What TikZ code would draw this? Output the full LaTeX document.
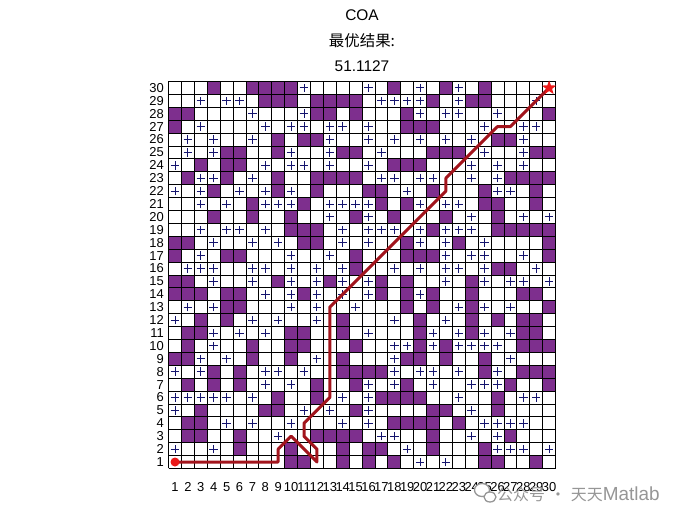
\documentclass[tikz,border=0pt]{standalone}
\usepackage{fontspec}
\setmainfont{Liberation Sans}
\newfontfamily\cjk{Noto Sans CJK SC}
\usetikzlibrary{shapes.geometric}
\definecolor{cellpurple}{RGB}{126,47,142}
\definecolor{plusblue}{RGB}{20,20,110}
\definecolor{pathred}{RGB}{162,20,28}
\definecolor{markred}{RGB}{235,25,25}
\definecolor{wmgray}{RGB}{150,150,150}
\begin{document}
\begin{tikzpicture}[x=1bp,y=-1bp,
  ticklbl/.style={font=\fontsize{13}{15}\selectfont, inner sep=0pt},
  ttl/.style={font=\fontsize{15.5}{18}\selectfont, inner sep=0pt},
  obstacle/.style={fill=cellpurple},
  plusmark/.style={draw=plusblue, line width=0.9bp},
  gridline/.style={draw=black, line width=0.8bp},
  route/.style={draw=pathred, line width=3bp, line join=round, line cap=round},
  startdot/.style={circle, fill=markred, minimum size=9bp, inner sep=0pt},
  goalstar/.style={star, star points=5, star point ratio=2.4, fill=markred, minimum size=15bp, inner sep=0pt},
  wmark/.style={text=wmgray, font=\fontsize{16}{18}\selectfont, inner sep=0pt}]
\useasboundingbox (0,0) rectangle (700,525);
\fill[white] (0,0) rectangle (700,525);

\node[ttl] (t1) at (362,15) {COA};
\node[ttl] (t2) at (362,41) {\cjk 最优结果:};
\node[ttl] (t3) at (362,66) {51.1127};

\begin{scope}[shift={(162.1,474.9)}, x=12.9bp, y=12.9bp]
 \foreach \r/\cs in {30/{4,7,8,9,10,18,22,25},
  29/{8,9,10,12,13,14,15,21,24,25},
  28/{1,2,12,13,15,19,30},
  27/{1,19,20,21},
  26/{9,11,12,26,27},
  25/{5,6,9,14,15,21,22,23,29,30},
  24/{3,5,6,18,19,20},
  23/{2,5,9,12,13,14,15,27,28,29,30},
  22/{4,9,12,16,17,21,25,29},
  21/{7,11,17,19,25,26,29},
  20/{4,7,10,15,18,22,26},
  19/{10,11,12,21,26,27,28,29,30},
  18/{1,2,11,12,19,23,30},
  17/{1,5,6,15,19,20,21,30},
  16/{15,26,27},
  15/{1,2,9,13,17,19,24},
  14/{1,2,3,5,6,11,17,19,21,24,28,29},
  13/{5,6,19,21,24,30},
  12/{3,5,14,20,24,26,28,29},
  11/{2,3,10,11,14,20,24,28,29},
  10/{2,7,10,11,15,20,22,28,29,30},
  9/{1,2,7,10,14,19,20,22,25},
  8/{4,6,14,15,16,17,25,28,29,30},
  7/{2,4,6,12,15,19,27,30},
  6/{9,12,17,18,19,20,26},
  5/{3,8,9,15,21,22,26},
  4/{2,3,18,19,20,21,23},
  3/{2,3,6,12,13,14,15,21,27},
  2/{6,10,14,16,17,21,25},
  1/{10,11,14,16,18,25,26,29}}
 {\foreach \c in \cs {\fill[obstacle] (\c-0.5,\r-0.5) rectangle ++(1,1);}}

 \foreach \r/\cs in {30/{11,16,20,23},
  29/{3,5,6,17,18,19,20,23,29},
  28/{7,11,20,22,23,26},
  27/{3,8,10,11,13,14,16,25,28,29},
  26/{2,4,7,13,16,18,20,22,24,28},
  25/{2,4,10,13,17,25,28},
  24/{1,8,10,11,13,16,24,26,28},
  23/{3,4,7,17,18,20,21,24,26},
  22/{1,3,6,8,10,19,26,27},
  21/{3,5,8,9,10,13,14,15,16,20,22,23},
  20/{13,16,24,28,30},
  19/{3,5,6,8,14,16,17,18,20,22,23,24},
  18/{4,7,9,14,16,20,22,25},
  17/{3,10,13,22,24,25,28},
  16/{2,3,4,7,8,10,12,14,18,20,22,23,25,29},
  15/{4,7,10,12,14,16,22,25,27,28,30},
  14/{8,10,12,14,16,20},
  13/{2,4,10,12,15,23,25,27},
  12/{1,7,9,12,18,22},
  11/{4,6,8,16,21,23,25,27},
  10/{4,18,19,21,23,24,25,26},
  9/{3,5,12,18,27},
  8/{1,3,8,9,11,18,20,21,23,26},
  7/{8,10,16,18,21,24,25,26},
  6/{1,2,3,4,5,7,14,16,23,28,29},
  5/{1,11,13,16,24},
  4/{5,7,10,14,16,25,26,27,28},
  3/{9,17,18,24,26},
  2/{1,4,19,26,27,28,30},
  1/{20,22}}
 {\foreach \c in \cs {\draw[plusmark] (\c-0.33,\r) -- (\c+0.33,\r) (\c,\r-0.33) -- (\c,\r+0.33);}}

 \draw[gridline, shift={(0.5,0.5)}] (0,0) grid[step={(1,1)}] (30,30);

 \coordinate (s) at (1,1);
 \coordinate (g) at (30,30);
 \draw[route] (s) -- (9,1) -- (9,2) -- (10,3) -- (11,2) -- (12,1) -- (12,2) -- (11,3)
   -- (11,4) -- (12,5) -- (13,6) -- (13,13) -- (22,22) -- (22,23) -- (26,27)
   -- (27,27) -- (g);
 \node[startdot] (start) at (s) {};
 \node[goalstar] (goal) at (g) {};
\end{scope}

\foreach \i in {1,...,30} {
  \node[ticklbl] (x\i) at ({175+(\i-1)*12.9},487) {\i};
  \node[ticklbl, anchor=east] (y\i) at (164,{462-(\i-1)*12.9}) {\i};
}

\draw[wmgray, line width=1.3bp, fill=white] (482,490) ellipse (7.5 and 6.5);
\draw[wmgray, line width=1.3bp, fill=white] (490,497) ellipse (6 and 5);
\node[wmark, anchor=west] (wm) at (497,494) {{\cjk 公众号}\hspace{5bp}{\cjk ·}\hspace{5bp}{\cjk 天天}{\fontsize{19}{20}\selectfont Matlab}};
\end{tikzpicture}
\end{document}
